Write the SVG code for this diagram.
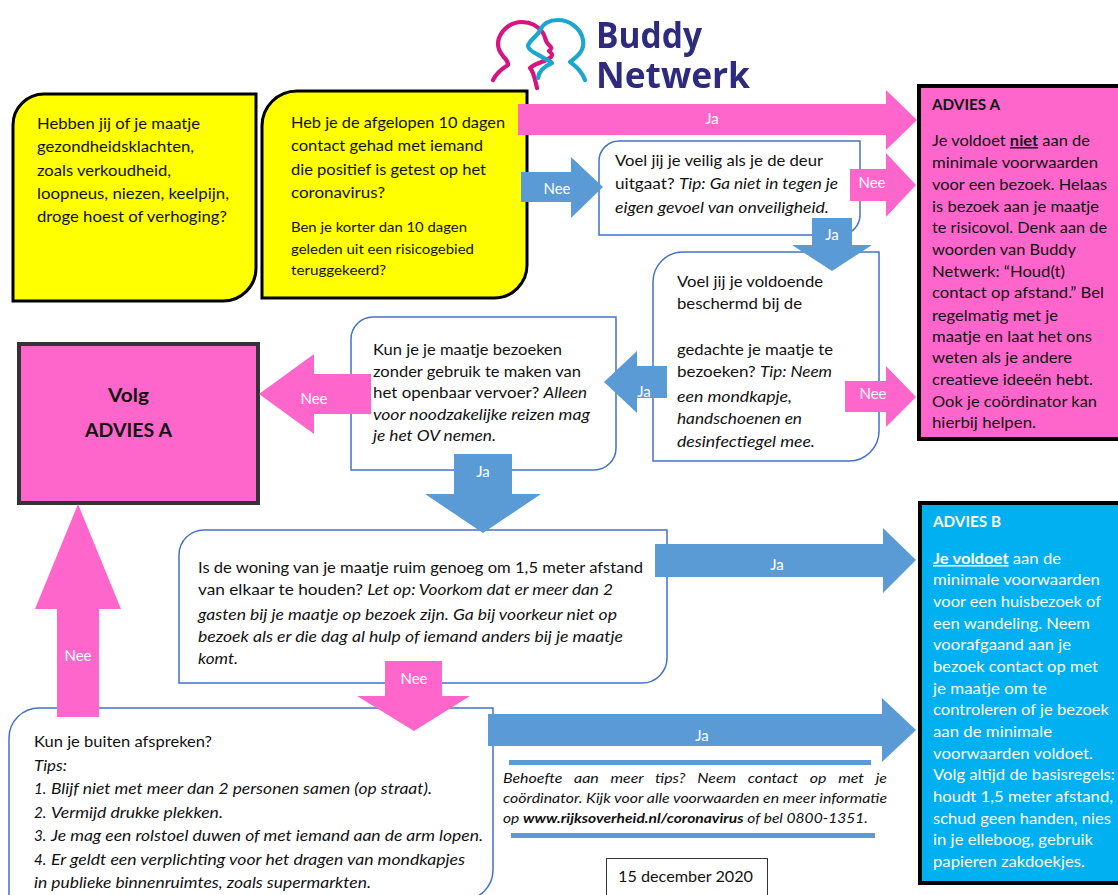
<svg xmlns="http://www.w3.org/2000/svg" width="1118" height="895" viewBox="0 0 1118 895">
<defs><filter id="soft" x="-5%" y="-5%" width="110%" height="110%"><feGaussianBlur stdDeviation="0.6"/></filter></defs>
<style>
text{font-family:"Lato","Carlito","Open Sans",sans-serif;fill:#111}
.t{font-size:15.2px}
.s{font-size:13.6px}
.n{font-size:14px}
.i{font-style:italic}
.b{font-weight:700}
.lab{font-size:15px;fill:#fff;text-anchor:middle}
.y{fill:#ff0;stroke:#000;stroke-width:3}
.w{fill:#fff;stroke:#4472c4;stroke-width:1.5}
.pk{fill:#ff66cc}
.bl{fill:#5b9bd5}
.adv{stroke:#000;stroke-width:4}
.wt{fill:#fff}
</style>
<rect width="1118" height="895" fill="#fff"/>
<g id="logo" filter="url(#soft)">
<path d="M493 80C497 72 503 68 508 65C508 60 505 59 503 56C498 50 497 44 499 38C503 28 512 22 522 22C532 22 538 26 543 33C546 38 545 41 548 44C551 47 553 48 549 51C552 54 553 54 551 57C546 62 537 62 530 68C534 72 535 80 537 88" fill="none" stroke="#d6127f" stroke-width="4.2" stroke-linecap="round" stroke-linejoin="round"/>
<path d="M585 80C582 72 576 66 570 62C578 56 585 50 583 40C581 28 569 20 558 20C549 20 543 24 540 30C538 36 529 40 528 46C529 52 538 54 542 57C546 60 551 61 552 63C545 66 539 70 538 78" fill="none" stroke="#1fa6cf" stroke-width="4.2" stroke-linecap="round" stroke-linejoin="round"/>
<text id="logo-buddy" x="596" y="48" font-size="36" textLength="106" lengthAdjust="spacingAndGlyphs" style="font-family:'Open Sans',sans-serif;font-weight:700;fill:#2e2a7d">Buddy</text>
<text id="logo-netwerk" x="596" y="88" font-size="36" textLength="154" lengthAdjust="spacingAndGlyphs" style="font-family:'Open Sans',sans-serif;font-weight:700;fill:#2e2a7d">Netwerk</text>
</g>
<g id="node-klachten">
<path class="y" d="M44 94H256V268A33 33 0 0 1 223 301H13V125A31 31 0 0 1 44 94Z"/>
<text class="t" lengthAdjust="spacingAndGlyphs" x="37" y="129" textLength="163">Hebben jij of je maatje</text>
<text class="t" lengthAdjust="spacingAndGlyphs" x="37" y="152" textLength="157">gezondheidsklachten,</text>
<text class="t" lengthAdjust="spacingAndGlyphs" x="37" y="176" textLength="134">zoals verkoudheid,</text>
<text class="t" lengthAdjust="spacingAndGlyphs" x="37" y="199" textLength="192">loopneus, niezen, keelpijn,</text>
<text class="t" lengthAdjust="spacingAndGlyphs" x="37" y="222" textLength="190">droge hoest of verhoging?</text>
</g>
<g id="node-contact">
<path class="y" d="M297 91H527V265A33 33 0 0 1 494 298H262V126A35 35 0 0 1 297 91Z"/>
<text class="t" lengthAdjust="spacingAndGlyphs" x="291" y="128" textLength="214">Heb je de afgelopen 10 dagen</text>
<text class="t" lengthAdjust="spacingAndGlyphs" x="291" y="151" textLength="192">contact gehad met iemand</text>
<text class="t" lengthAdjust="spacingAndGlyphs" x="291" y="175" textLength="195">die positief is getest op het</text>
<text class="t" lengthAdjust="spacingAndGlyphs" x="291" y="198" textLength="94">coronavirus?</text>
<text class="s" lengthAdjust="spacingAndGlyphs" x="291" y="232" textLength="176">Ben je korter dan 10 dagen</text>
<text class="s" lengthAdjust="spacingAndGlyphs" x="291" y="254" textLength="183">geleden uit een risicogebied</text>
<text class="s" lengthAdjust="spacingAndGlyphs" x="291" y="275" textLength="95">teruggekeerd?</text>
</g>
<g id="node-veilig">
<path class="w" d="M619 141H860V215A20 20 0 0 1 840 235H599V161A20 20 0 0 1 619 141Z"/>
<text class="t" lengthAdjust="spacingAndGlyphs" x="615" y="166" textLength="208">Voel jij je veilig als je de deur</text>
<text class="t" lengthAdjust="spacingAndGlyphs" x="615" y="189" textLength="223">uitgaat? <tspan class="i">Tip: Ga niet in tegen je</tspan></text>
<text class="t i" lengthAdjust="spacingAndGlyphs" x="615" y="213" textLength="214">eigen gevoel van onveiligheid.</text>
</g>
<g id="node-beschermd">
<path class="w" d="M683 252H879V431A30 30 0 0 1 849 461H653V282A30 30 0 0 1 683 252Z"/>
<text class="t" lengthAdjust="spacingAndGlyphs" x="677" y="287" textLength="146">Voel jij je voldoende</text>
<text class="t" lengthAdjust="spacingAndGlyphs" x="677" y="309" textLength="125">beschermd bij de</text>
<text class="t" lengthAdjust="spacingAndGlyphs" x="677" y="355" textLength="156">gedachte je maatje te</text>
<text class="t" lengthAdjust="spacingAndGlyphs" x="677" y="377" textLength="155">bezoeken? <tspan class="i">Tip: Neem</tspan></text>
<text class="t i" lengthAdjust="spacingAndGlyphs" x="677" y="402" textLength="115">een mondkapje,</text>
<text class="t i" lengthAdjust="spacingAndGlyphs" x="677" y="424" textLength="125">handschoenen en</text>
<text class="t i" lengthAdjust="spacingAndGlyphs" x="677" y="447" textLength="138">desinfectiegel mee.</text>
</g>
<g id="node-ov">
<path class="w" d="M373 317H616V448A22 22 0 0 1 594 470H351V339A22 22 0 0 1 373 317Z"/>
<text class="t" lengthAdjust="spacingAndGlyphs" x="373" y="355" textLength="189">Kun je je maatje bezoeken</text>
<text class="t" lengthAdjust="spacingAndGlyphs" x="373" y="377" textLength="208">zonder gebruik te maken van</text>
<text class="t" lengthAdjust="spacingAndGlyphs" x="373" y="398" textLength="214">het openbaar vervoer? <tspan class="i">Alleen</tspan></text>
<text class="t i" lengthAdjust="spacingAndGlyphs" x="373" y="420" textLength="217">voor noodzakelijke reizen mag</text>
<text class="t i" lengthAdjust="spacingAndGlyphs" x="373" y="441" textLength="123">je het OV nemen.</text>
</g>
<g id="node-volg">
<rect x="19" y="344" width="239" height="159" fill="#ff66cc" stroke="#333" stroke-width="4"/>
<text x="108" y="402" lengthAdjust="spacingAndGlyphs" textLength="41" class="b" style="font-size:19px">Volg</text>
<text x="85" y="437" lengthAdjust="spacingAndGlyphs" textLength="87" class="b" style="font-size:18px">ADVIES A</text>
</g>
<g id="node-woning">
<path class="w" d="M204 530H667V658A25 25 0 0 1 642 683H179V555A25 25 0 0 1 204 530Z"/>
<text class="t" lengthAdjust="spacingAndGlyphs" x="198" y="573" textLength="445">Is de woning van je maatje ruim genoeg om 1,5 meter afstand</text>
<text class="t" lengthAdjust="spacingAndGlyphs" x="198" y="595" textLength="415">van elkaar te houden? <tspan class="i">Let op: Voorkom dat er meer dan 2</tspan></text>
<text class="t i" lengthAdjust="spacingAndGlyphs" x="198" y="620" textLength="419">gasten bij je maatje op bezoek zijn. Ga bij voorkeur niet op</text>
<text class="t i" lengthAdjust="spacingAndGlyphs" x="198" y="642" textLength="425">bezoek als er die dag al hulp of iemand anders bij je maatje</text>
<text class="t i" lengthAdjust="spacingAndGlyphs" x="198" y="664" textLength="40">komt.</text>
</g>
<g id="node-buiten">
<path class="w" d="M39 708H493V870A30 30 0 0 1 463 900H9V738A30 30 0 0 1 39 708Z"/>
<text class="t" lengthAdjust="spacingAndGlyphs" x="34" y="747" textLength="178">Kun je buiten afspreken?</text>
<text class="t i" lengthAdjust="spacingAndGlyphs" x="34" y="771" textLength="33">Tips:</text>
<text class="t i" x="34" y="794">1.</text>
<text class="t i" lengthAdjust="spacingAndGlyphs" x="51" y="794" textLength="381">Blijf niet met meer dan 2 personen samen (op straat).</text>
<text class="t i" x="34" y="818">2.</text>
<text class="t i" lengthAdjust="spacingAndGlyphs" x="51" y="818" textLength="172">Vermijd drukke plekken.</text>
<text class="t i" x="34" y="841">3.</text>
<text class="t i" lengthAdjust="spacingAndGlyphs" x="51" y="841" textLength="432">Je mag een rolstoel duwen of met iemand aan de arm lopen.</text>
<text class="t i" x="34" y="865">4.</text>
<text class="t i" lengthAdjust="spacingAndGlyphs" x="51" y="865" textLength="414">Er geldt een verplichting voor het dragen van mondkapjes</text>
<text class="t i" lengthAdjust="spacingAndGlyphs" x="34" y="888" textLength="337">in publieke binnenruimtes, zoals supermarkten.</text>
</g>
<g id="node-advies-a">
<rect x="919" y="86" width="210" height="353" fill="#ff66cc" class="adv"/>
<text x="932" y="110" lengthAdjust="spacingAndGlyphs" textLength="68" class="b" style="font-size:14.5px">ADVIES A</text>
<text class="t" lengthAdjust="spacingAndGlyphs" x="932" y="146" textLength="158">Je voldoet <tspan class="b" text-decoration="underline">niet</tspan> aan de</text>
<text class="t" lengthAdjust="spacingAndGlyphs" x="932" y="168" textLength="166">minimale voorwaarden</text>
<text class="t" lengthAdjust="spacingAndGlyphs" x="932" y="190" textLength="175">voor een bezoek. Helaas</text>
<text class="t" lengthAdjust="spacingAndGlyphs" x="932" y="212" textLength="167">is bezoek aan je maatje</text>
<text class="t" lengthAdjust="spacingAndGlyphs" x="932" y="233" textLength="175">te risicovol. Denk aan de</text>
<text class="t" lengthAdjust="spacingAndGlyphs" x="932" y="255" textLength="144">woorden van Buddy</text>
<text class="t" lengthAdjust="spacingAndGlyphs" x="932" y="277" textLength="133">Netwerk: “Houd(t)</text>
<text class="t" lengthAdjust="spacingAndGlyphs" x="932" y="298" textLength="172">contact op afstand.” Bel</text>
<text class="t" lengthAdjust="spacingAndGlyphs" x="932" y="321" textLength="126">regelmatig met je</text>
<text class="t" lengthAdjust="spacingAndGlyphs" x="932" y="342" textLength="160">maatje en laat het ons</text>
<text class="t" lengthAdjust="spacingAndGlyphs" x="932" y="363" textLength="140">weten als je andere</text>
<text class="t" lengthAdjust="spacingAndGlyphs" x="932" y="385" textLength="161">creatieve ideeën hebt.</text>
<text class="t" lengthAdjust="spacingAndGlyphs" x="932" y="407" textLength="165">Ook je coördinator kan</text>
<text class="t" lengthAdjust="spacingAndGlyphs" x="932" y="428" textLength="104">hierbij helpen.</text>
</g>
<g id="node-advies-b">
<rect x="920" y="503" width="210" height="380" fill="#00b0f0" class="adv"/>
<text x="933" y="527" lengthAdjust="spacingAndGlyphs" textLength="68" class="b wt" style="font-size:14.5px">ADVIES B</text>
<text class="t wt" lengthAdjust="spacingAndGlyphs" x="933" y="564" textLength="128"><tspan class="b wt" text-decoration="underline">Je voldoet</tspan> aan de</text>
<text class="t wt" lengthAdjust="spacingAndGlyphs" x="933" y="585" textLength="167">minimale voorwaarden</text>
<text class="t wt" lengthAdjust="spacingAndGlyphs" x="933" y="607" textLength="168">voor een huisbezoek of</text>
<text class="t wt" lengthAdjust="spacingAndGlyphs" x="933" y="629" textLength="157">een wandeling. Neem</text>
<text class="t wt" lengthAdjust="spacingAndGlyphs" x="933" y="650" textLength="138">voorafgaand aan je</text>
<text class="t wt" lengthAdjust="spacingAndGlyphs" x="933" y="672" textLength="165">bezoek contact op met</text>
<text class="t wt" lengthAdjust="spacingAndGlyphs" x="933" y="694" textLength="114">je maatje om te</text>
<text class="t wt" lengthAdjust="spacingAndGlyphs" x="933" y="715" textLength="176">controleren of je bezoek</text>
<text class="t wt" lengthAdjust="spacingAndGlyphs" x="933" y="737" textLength="119">aan de minimale</text>
<text class="t wt" lengthAdjust="spacingAndGlyphs" x="933" y="759" textLength="160">voorwaarden voldoet.</text>
<text class="t wt" lengthAdjust="spacingAndGlyphs" x="933" y="780" textLength="182">Volg altijd de basisregels:</text>
<text class="t wt" lengthAdjust="spacingAndGlyphs" x="933" y="802" textLength="180">houdt 1,5 meter afstand,</text>
<text class="t wt" lengthAdjust="spacingAndGlyphs" x="933" y="824" textLength="178">schud geen handen, nies</text>
<text class="t wt" lengthAdjust="spacingAndGlyphs" x="933" y="845" textLength="160">in je elleboog, gebruik</text>
<text class="t wt" lengthAdjust="spacingAndGlyphs" x="933" y="867" textLength="152">papieren zakdoekjes.</text>
</g>
<g id="note-tips">
<rect x="509" y="760" width="362" height="5" fill="#5b9bd5"/>
<rect x="511" y="833" width="364" height="5" fill="#5b9bd5"/>
<text class="i n" lengthAdjust="spacingAndGlyphs" x="503" y="783" textLength="384" style="word-spacing:7px">Behoefte aan meer tips? Neem contact op met je</text>
<text class="i n" lengthAdjust="spacingAndGlyphs" x="503" y="803" textLength="384">coördinator. Kijk voor alle voorwaarden en meer informatie</text>
<text class="i n" lengthAdjust="spacingAndGlyphs" x="503" y="823" textLength="365">op <tspan class="b">www.rijksoverheid.nl/coronavirus</tspan> of bel 0800-1351.</text>
</g>
<g id="node-datum">
<rect x="606.500" y="858.500" width="161" height="50" fill="#fff" stroke="#333" stroke-width="1"/>
<text x="618" y="882" lengthAdjust="spacingAndGlyphs" textLength="135" class="t">15 december 2020</text>
</g>
<g id="connectors">
<path class="pk" d="M518 104H886V90L917 120L886 150V135H518Z"/>
<text class="lab" x="712" y="124">Ja</text>
<path class="bl" d="M521 172H571V157L603 187L571 218V202H521Z"/>
<text class="lab" x="557" y="194">Nee</text>
<path class="pk" d="M850 169H886V153L916 185L886 217V201H850Z"/>
<text class="lab" x="872" y="188">Nee</text>
<path class="bl" d="M812 218H852V245H872L832 271L792 245H812Z"/>
<text class="lab" x="832" y="240">Ja</text>
<path class="pk" d="M845 381H886V366L916 397L886 427V412H845Z"/>
<text class="lab" x="873" y="399">Nee</text>
<path class="bl" d="M667 366H637V351L604 382L637 413V398H667Z"/>
<text class="lab" x="644" y="397">Ja</text>
<path class="pk" d="M371 374H314V354L259 394L314 434V414H371Z"/>
<text class="lab" x="314" y="404">Nee</text>
<path class="bl" d="M454 454H512V494H541L483 533L425 494H454Z"/>
<text class="lab" x="483" y="477">Ja</text>
<path class="bl" d="M655 544H883V528L916 560L883 593V577H655Z"/>
<text class="lab" x="777" y="570">Ja</text>
<path class="pk" d="M99 717H57V609H35L78 504L121 609H99Z"/>
<text class="lab" x="78" y="661">Nee</text>
<path class="pk" d="M385 661H442V696H470L414 731L357 696H385Z"/>
<text class="lab" x="414" y="684">Nee</text>
<path class="bl" d="M488 714H882V698L916 730L882 762V746H488Z"/>
<text class="lab" x="702" y="741">Ja</text>
</g>
</svg>
